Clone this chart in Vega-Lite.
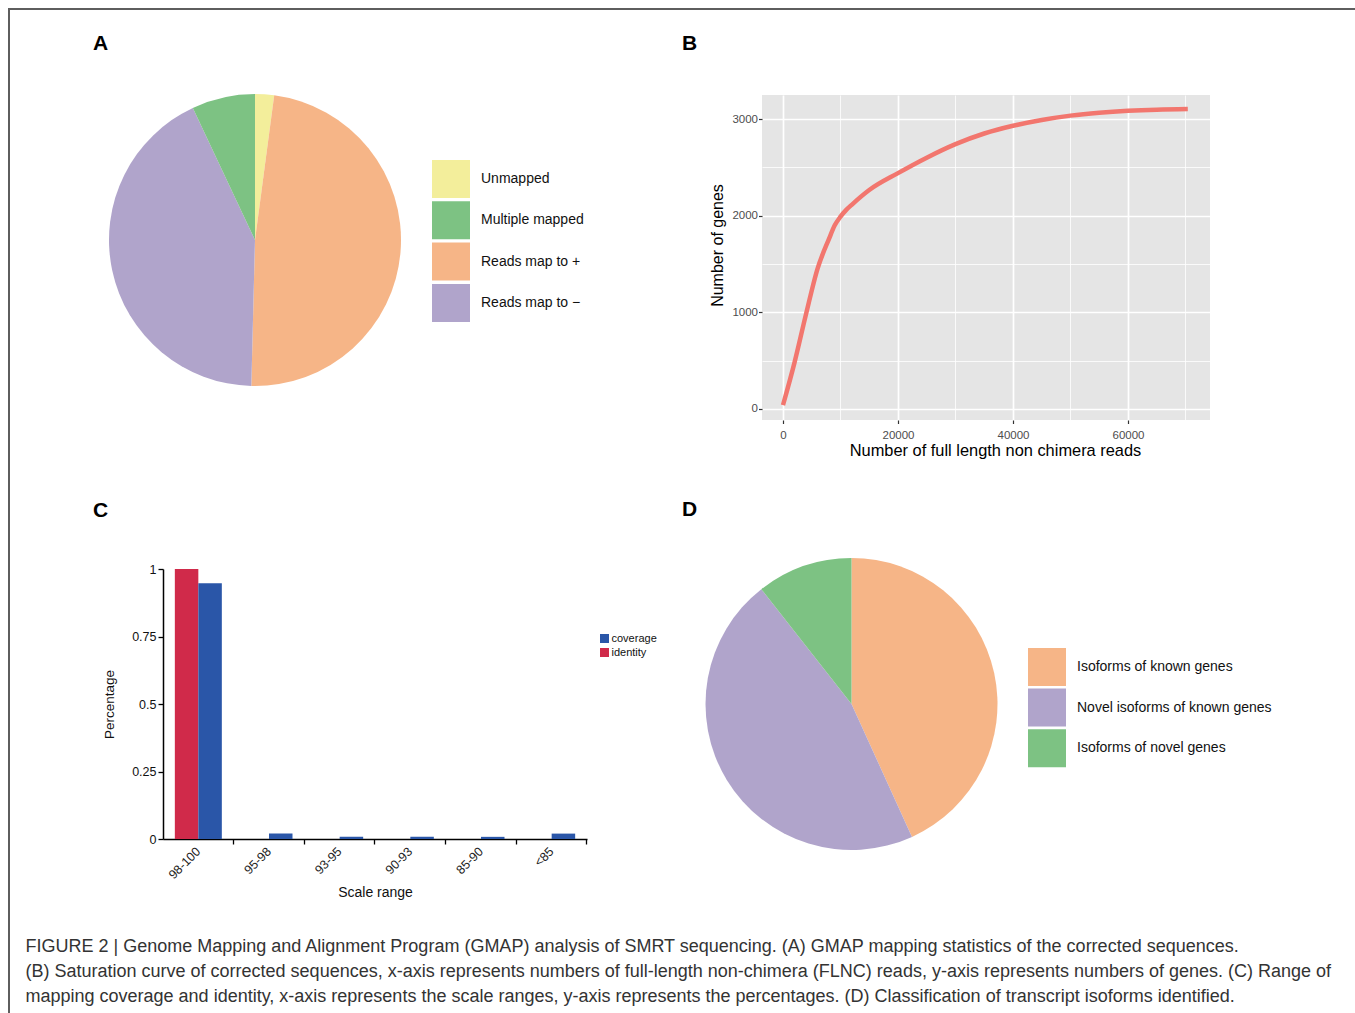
{
  "$schema": "https://vega.github.io/schema/vega-lite/v6.json",
  "background": "white",
  "padding": {"left": 8, "top": 8, "right": 0, "bottom": 0},
  "config": {"view": {"stroke": null}, "font": "Liberation Sans"},
  "spacing": 0,
  "bounds": "flush",
  "resolve": {"scale": {"color": "independent"}, "legend": {"color": "independent"}},
  "vconcat": [
    {"width": 1347, "height": 2, "view": {"fill": "#5E5E5E", "stroke": null}, "data": {"values": []}, "mark": "point"},
    {
      "spacing": 15,
      "bounds": "flush",
      "resolve": {"scale": {"color": "independent"}, "legend": {"color": "independent"}},
      "hconcat": [
        {"width": 2, "height": 1003, "view": {"fill": "#5E5E5E", "stroke": null}, "data": {"values": []}, "mark": "point"},
        {
          "spacing": 0,
          "resolve": {"scale": {"color": "independent"}, "legend": {"color": "independent"}},
          "vconcat": [
            {"width": 1, "height": 23, "data": {"values": []}, "mark": "point"},
            {
              "spacing": 0,
              "bounds": "flush",
              "resolve": {"scale": {"color": "independent"}, "legend": {"color": "independent"}},
              "hconcat": [
                {"width": 84, "height": 380, "data": {"values": []}, "mark": "point"},
                {
                  "width": 292,
                  "height": 290,
                  "title": {"text": "A", "anchor": "start", "frame": "group", "dx": -16, "offset": 23, "fontSize": 21, "fontWeight": "bold", "baseline": "alphabetic", "color": "#000000", "font": "Liberation Sans"},
                  "data": {"values": [
                    {"cat": "Unmapped", "pct": 2.1, "ord": 1},
                    {"cat": "Reads map to +", "pct": 48.3, "ord": 2},
                    {"cat": "Reads map to −", "pct": 42.6, "ord": 3},
                    {"cat": "Multiple mapped", "pct": 7.0, "ord": 4}
                  ]},
                  "mark": {"type": "arc", "outerRadius": 146},
                  "encoding": {
                    "theta": {"field": "pct", "type": "quantitative", "stack": true},
                    "order": {"field": "ord", "type": "quantitative"},
                    "color": {
                      "field": "cat", "type": "nominal",
                      "scale": {"domain": ["Unmapped", "Multiple mapped", "Reads map to +", "Reads map to −"], "range": ["#F3EE9B", "#7DC283", "#F6B587", "#B0A4CB"]},
                      "legend": {"title": null, "orient": "none", "legendX": 323, "legendY": 65, "padding": 0, "symbolType": "square", "symbolSize": 1444, "symbolStrokeWidth": 0, "symbolOpacity": 1, "labelFontSize": 14, "labelOffset": 11, "rowPadding": 3.3, "labelColor": "#111111", "labelFont": "Liberation Sans"}
                    }
                  }
                },
                {"width": 361, "height": 10, "data": {"values": []}, "mark": "point"},
                {
                  "width": 448,
                  "height": 325,
                  "view": {"fill": "#E5E5E5", "stroke": null},
                  "title": {"text": "B", "anchor": "start", "frame": "group", "dx": -80, "offset": 24, "fontSize": 21, "fontWeight": "bold", "baseline": "alphabetic", "color": "#000000", "font": "Liberation Sans"},
                  "data": {"values": [
                    {"reads": 0, "genes": 40},
                    {"reads": 2000, "genes": 480},
                    {"reads": 4000, "genes": 980},
                    {"reads": 6000, "genes": 1450},
                    {"reads": 8000, "genes": 1760},
                    {"reads": 9000, "genes": 1900},
                    {"reads": 10000, "genes": 1990},
                    {"reads": 11000, "genes": 2060},
                    {"reads": 12000, "genes": 2115},
                    {"reads": 15000, "genes": 2265},
                    {"reads": 20000, "genes": 2440},
                    {"reads": 25000, "genes": 2600},
                    {"reads": 30000, "genes": 2740},
                    {"reads": 35000, "genes": 2850},
                    {"reads": 40000, "genes": 2930},
                    {"reads": 45000, "genes": 2990},
                    {"reads": 50000, "genes": 3035},
                    {"reads": 55000, "genes": 3065},
                    {"reads": 60000, "genes": 3085},
                    {"reads": 65000, "genes": 3097},
                    {"reads": 70400, "genes": 3103}
                  ]},
                  "mark": {"type": "line", "color": "#F2766E", "strokeWidth": 4.5, "interpolate": "monotone", "strokeCap": "butt"},
                  "encoding": {
                    "x": {
                      "field": "reads", "type": "quantitative",
                      "scale": {"domain": [-3652, 74261], "nice": false, "zero": false},
                      "axis": {
                        "title": "Number of full length non chimera reads",
                        "values": [0, 10000, 20000, 30000, 40000, 50000, 60000, 70000],
                        "format": "d",
                        "labelExpr": "datum.value % 20000 === 0 ? datum.label : ''",
                        "grid": true, "gridColor": "#FFFFFF",
                        "gridWidth": {"condition": {"test": "datum.value % 20000 === 0", "value": 1.7}, "value": 0.8},
                        "tickOpacity": {"condition": {"test": "datum.value % 20000 === 0", "value": 1}, "value": 0},
                        "tickColor": "#333333", "tickSize": 3.5, "tickWidth": 1.2,
                        "domain": false,
                        "labelColor": "#4D4D4D", "labelFontSize": 11.5, "labelPadding": 6,
                        "titleFontSize": 16.4, "titleFontWeight": "normal", "titleColor": "#000000", "titlePadding": 1, "titleX": 233
                      }
                    },
                    "y": {
                      "field": "genes", "type": "quantitative",
                      "scale": {"domain": [-113.8, 3248.3], "nice": false, "zero": false},
                      "axis": {
                        "title": "Number of genes",
                        "values": [0, 500, 1000, 1500, 2000, 2500, 3000],
                        "format": "d",
                        "labelExpr": "datum.value % 1000 === 0 ? datum.label : ''",
                        "grid": true, "gridColor": "#FFFFFF",
                        "gridWidth": {"condition": {"test": "datum.value % 1000 === 0", "value": 1.7}, "value": 0.8},
                        "tickOpacity": {"condition": {"test": "datum.value % 1000 === 0", "value": 1}, "value": 0},
                        "tickColor": "#333333", "tickSize": 3.5, "tickWidth": 1.2,
                        "domain": false,
                        "labelColor": "#4D4D4D", "labelFontSize": 11.5, "labelPadding": 1,
                        "titleFontSize": 16, "titleFontWeight": "normal", "titleColor": "#000000", "titlePadding": 6, "titleY": 150
                      }
                    }
                  }
                }
              ]
            },
            {"width": 1, "height": 24, "data": {"values": []}, "mark": "point"},
            {
              "spacing": 0,
              "bounds": "flush",
              "resolve": {"scale": {"color": "independent"}, "legend": {"color": "independent"}},
              "hconcat": [
                {"width": 138, "height": 335, "data": {"values": []}, "mark": "point"},
                {
                  "width": 424,
                  "height": 270,
                  "title": {"text": "C", "anchor": "start", "frame": "group", "dx": -70, "offset": 25, "fontSize": 21, "fontWeight": "bold", "baseline": "alphabetic", "color": "#000000", "font": "Liberation Sans"},
                  "data": {"values": [
                    {"range": "98-100", "type": "identity", "value": 1.0},
                    {"range": "98-100", "type": "coverage", "value": 0.947},
                    {"range": "95-98", "type": "identity", "value": 0},
                    {"range": "95-98", "type": "coverage", "value": 0.02},
                    {"range": "93-95", "type": "identity", "value": 0},
                    {"range": "93-95", "type": "coverage", "value": 0.008},
                    {"range": "90-93", "type": "identity", "value": 0},
                    {"range": "90-93", "type": "coverage", "value": 0.008},
                    {"range": "85-90", "type": "identity", "value": 0},
                    {"range": "85-90", "type": "coverage", "value": 0.008},
                    {"range": "<85", "type": "identity", "value": 0},
                    {"range": "<85", "type": "coverage", "value": 0.02}
                  ]},
                  "mark": {"type": "bar"},
                  "encoding": {
                    "x": {
                      "field": "range", "type": "nominal",
                      "sort": ["98-100", "95-98", "93-95", "90-93", "85-90", "<85"],
                      "scale": {"paddingInner": 0.335, "paddingOuter": 0.1675},
                      "axis": {
                        "title": "Scale range",
                        "labelAngle": -45, "labelAlign": "right", "labelBaseline": "middle",
                        "labelFontSize": 12.5, "labelColor": "#222222", "labelPadding": 5, "labelOffset": 0,
                        "bandPosition": 1.25, "tickExtra": false,
                        "tickSize": 5, "tickColor": "#000000", "tickWidth": 1.3,
                        "domainColor": "#000000", "domainWidth": 1.5, "grid": false,
                        "titleFontSize": 14, "titleFontWeight": "normal", "titleColor": "#111111", "titlePadding": 4
                      }
                    },
                    "xOffset": {"field": "type", "type": "nominal", "scale": {"domain": ["identity", "coverage"], "paddingInner": 0, "paddingOuter": 0}},
                    "y": {
                      "field": "value", "type": "quantitative",
                      "scale": {"domain": [0, 1], "nice": false},
                      "axis": {
                        "title": "Percentage",
                        "values": [0, 0.25, 0.5, 0.75, 1],
                        "format": ".2~f",
                        "labelFontSize": 12.5, "labelColor": "#111111", "labelPadding": 2,
                        "tickSize": 5, "tickColor": "#000000", "tickWidth": 1.3,
                        "domainColor": "#000000", "domainWidth": 1.5, "grid": false,
                        "titleFontSize": 13.5, "titleFontWeight": "normal", "titleColor": "#111111", "titlePadding": 15
                      }
                    },
                    "color": {
                      "field": "type", "type": "nominal",
                      "scale": {"domain": ["coverage", "identity"], "range": ["#2A56A8", "#D02A4A"]},
                      "legend": {"title": null, "orient": "none", "legendX": 436, "legendY": 64, "padding": 0, "symbolType": "square", "symbolSize": 81, "symbolStrokeWidth": 0, "symbolOpacity": 1, "labelFontSize": 11, "labelOffset": 1.5, "rowPadding": 2, "labelColor": "#111111"}
                    }
                  }
                },
                {"width": 118, "height": 10, "data": {"values": []}, "mark": "point"},
                {
                  "width": 293,
                  "height": 270,
                  "title": {"text": "D", "anchor": "start", "frame": "group", "dx": -23, "offset": 21, "fontSize": 21, "fontWeight": "bold", "baseline": "alphabetic", "color": "#000000", "font": "Liberation Sans"},
                  "data": {"values": [
                    {"cat": "Isoforms of known genes", "pct": 43.2, "ord": 1},
                    {"cat": "Novel isoforms of known genes", "pct": 46.2, "ord": 2},
                    {"cat": "Isoforms of novel genes", "pct": 10.6, "ord": 3}
                  ]},
                  "mark": {"type": "arc", "outerRadius": 146},
                  "encoding": {
                    "theta": {"field": "pct", "type": "quantitative", "stack": true},
                    "order": {"field": "ord", "type": "quantitative"},
                    "color": {
                      "field": "cat", "type": "nominal",
                      "scale": {"domain": ["Isoforms of known genes", "Novel isoforms of known genes", "Isoforms of novel genes"], "range": ["#F6B587", "#B0A4CB", "#7DC283"]},
                      "legend": {"title": null, "orient": "none", "legendX": 323, "legendY": 79, "padding": 0, "symbolType": "square", "symbolSize": 1444, "symbolStrokeWidth": 0, "symbolOpacity": 1, "labelFontSize": 14, "labelOffset": 11, "rowPadding": 2.6, "labelColor": "#111111", "labelLimit": 300}
                    }
                  }
                }
              ]
            },
            {"width": 1, "height": 30, "data": {"values": []}, "mark": "point"},
            {
              "width": 1,
              "height": {"step": 25},
              "data": {"values": [
                {"line": 1, "text": "FIGURE 2 | Genome Mapping and Alignment Program (GMAP) analysis of SMRT sequencing. (A) GMAP mapping statistics of the corrected sequences."},
                {"line": 2, "text": "(B) Saturation curve of corrected sequences, x-axis represents numbers of full-length non-chimera (FLNC) reads, y-axis represents numbers of genes. (C) Range of"},
                {"line": 3, "text": "mapping coverage and identity, x-axis represents the scale ranges, y-axis represents the percentages. (D) Classification of transcript isoforms identified."}
              ]},
              "mark": {"type": "text", "align": "left", "baseline": "middle", "fontSize": 18, "color": "#333333", "font": "Liberation Sans"},
              "encoding": {
                "y": {"field": "line", "type": "ordinal", "axis": null},
                "text": {"field": "text", "type": "nominal"}
              }
            }
          ]
        }
      ]
    }
  ]
}
